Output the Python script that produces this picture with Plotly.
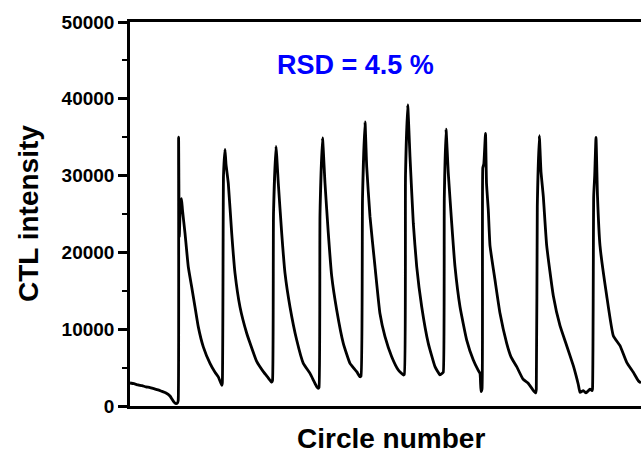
import plotly.graph_objects as go

# time axis (arbitrary units) and CTL intensity
t = [0, 4, 8, 12, 16, 20, 24, 28, 32, 36, 40, 42, 44, 46, 47.5, 48.2,
     48.6, 49.3, 50.3, 51.5, 52.5, 55, 58.3, 61.7, 65, 68.3, 73.3, 80, 85, 88.3, 91.7,
     92.3, 93.5, 95, 96, 98.3, 101.7, 105, 110, 116.7, 120, 126.7, 133.3, 138, 141.7,
     142.5, 143.5, 146, 148.3, 151.7, 155, 160, 166.7, 173.3, 180, 184, 186.7, 188.3,
     189, 190, 192.5, 195, 198.3, 201.7, 206.7, 213.3, 220, 226.7, 230,
     231, 232.5, 235, 236.7, 240, 245, 250, 255, 261.7, 268.3, 273.3,
     274.3, 275.5, 277.7, 280, 283.3, 286.7, 291.7, 298.3, 305, 310, 312.5,
     313.3, 314.3, 316, 318.3, 321.7, 325, 330, 336.7, 343.3, 348, 350, 351,
     352, 352.8, 353.8, 355.5, 356.5, 358.3, 360, 365, 370, 376.7, 381, 386.7, 393, 398, 403, 405.7,
     406.3, 407.3, 409.3, 411, 413.3, 416.7, 423.3, 430, 436.7, 443.3, 446, 448.3, 450, 453.3, 456, 460, 462,
     462.5, 463.7, 464.7, 466, 467.5, 470, 476.7, 483.3, 490, 496.7, 503.3, 508.3, 511]
ctl = [3000, 2900, 2750, 2650, 2500, 2400, 2250, 2100, 1900, 1700, 1300, 900, 500, 300, 400, 700,
       35000, 22000, 26000, 27000, 25500, 22500, 18100, 15500, 12900, 10300, 7700, 5550, 4400, 3800, 2700,
       3000, 30000, 33400, 31500, 29000, 22500, 17300, 12900, 9470, 8200, 5800, 4470, 3700, 3100,
       3300, 25000, 33800, 29000, 22500, 17300, 12900, 8590, 5560, 4250, 3200, 2510, 2300,
       2400, 25000, 34900, 29000, 22500, 16900, 12500, 8160, 5560, 4470, 3810,
       3900, 27000, 37000, 31160, 24650, 18140, 12000, 9030, 6420, 4690, 4040,
       4100, 30000, 39200, 32460, 23800, 18140, 12930, 8160, 5120, 4040, 4300,
       4400, 27000, 36050, 30300, 23800, 18140, 12930, 8590, 5990, 4700, 4250, 1860,
       2200, 31000, 31500, 35500, 29000, 25500, 20870, 16400, 12070, 8160, 6400, 5120, 3500, 3000, 2080, 1700,
       2200, 26000, 35200, 30500, 27300, 20870, 14360, 10450, 7850, 5250, 4000, 2800, 1780, 2000, 1700, 2200, 1990,
       2210, 27300, 30000, 34980, 27300, 20870, 14360, 9150, 7850, 5680, 4380, 3290, 3000]

y_ticks = [0, 10000, 20000, 30000, 40000, 50000]
y_tick_labels = ["0", "10000", "20000", "30000", "40000", "50000"]

FONT = "Liberation Sans, Arial, sans-serif"

fig = go.Figure()
fig.add_trace(go.Scatter(x=t, y=ctl, mode="lines",
                         line=dict(color="black", width=2.8, shape="spline", smoothing=0.4),
                         showlegend=False, hoverinfo="skip"))

fig.update_layout(
    width=641, height=456,
    margin=dict(l=130, r=0, t=22, b=50),
    paper_bgcolor="white", plot_bgcolor="white",
    font=dict(family=FONT, color="black"),
    xaxis=dict(range=[0, 511], showline=True, mirror=True, linecolor="black",
               linewidth=2.5, ticks="", showticklabels=False, showgrid=False,
               zeroline=False),
    yaxis=dict(range=[0, 50000], tickvals=y_ticks, ticktext=y_tick_labels,
               ticks="outside", ticklen=9, tickwidth=2.5, tickcolor="black",
               showline=True, linecolor="black", linewidth=2.5, showgrid=False,
               zeroline=False,
               tickfont=dict(family=FONT, size=19, weight="bold", color="black"),
               minor=dict(dtick=5000, tick0=0, ticks="outside", ticklen=5,
                          tickwidth=2, tickcolor="black", showgrid=False)),
    annotations=[
        dict(text="RSD = 4.5 %", x=0.442, y=0.888, xref="paper", yref="paper",
             xanchor="center", yanchor="middle", showarrow=False,
             font=dict(family=FONT, size=27, weight="bold", color="#0000FF")),
        dict(text="Circle number", x=0.511, y=-0.0846, xref="paper", yref="paper",
             xanchor="center", yanchor="middle", showarrow=False,
             font=dict(family=FONT, size=28, weight="bold", color="black")),
        dict(text="CTL intensity", x=-0.1996, y=0.5, xref="paper", yref="paper",
             xanchor="center", yanchor="middle", showarrow=False, textangle=-90,
             font=dict(family=FONT, size=28, weight="bold", color="black")),
    ],
)

fig.write_html("out.html",
               config={"displayModeBar": False},
               post_script="document.body.style.margin='0';document.body.style.overflow='hidden';")
